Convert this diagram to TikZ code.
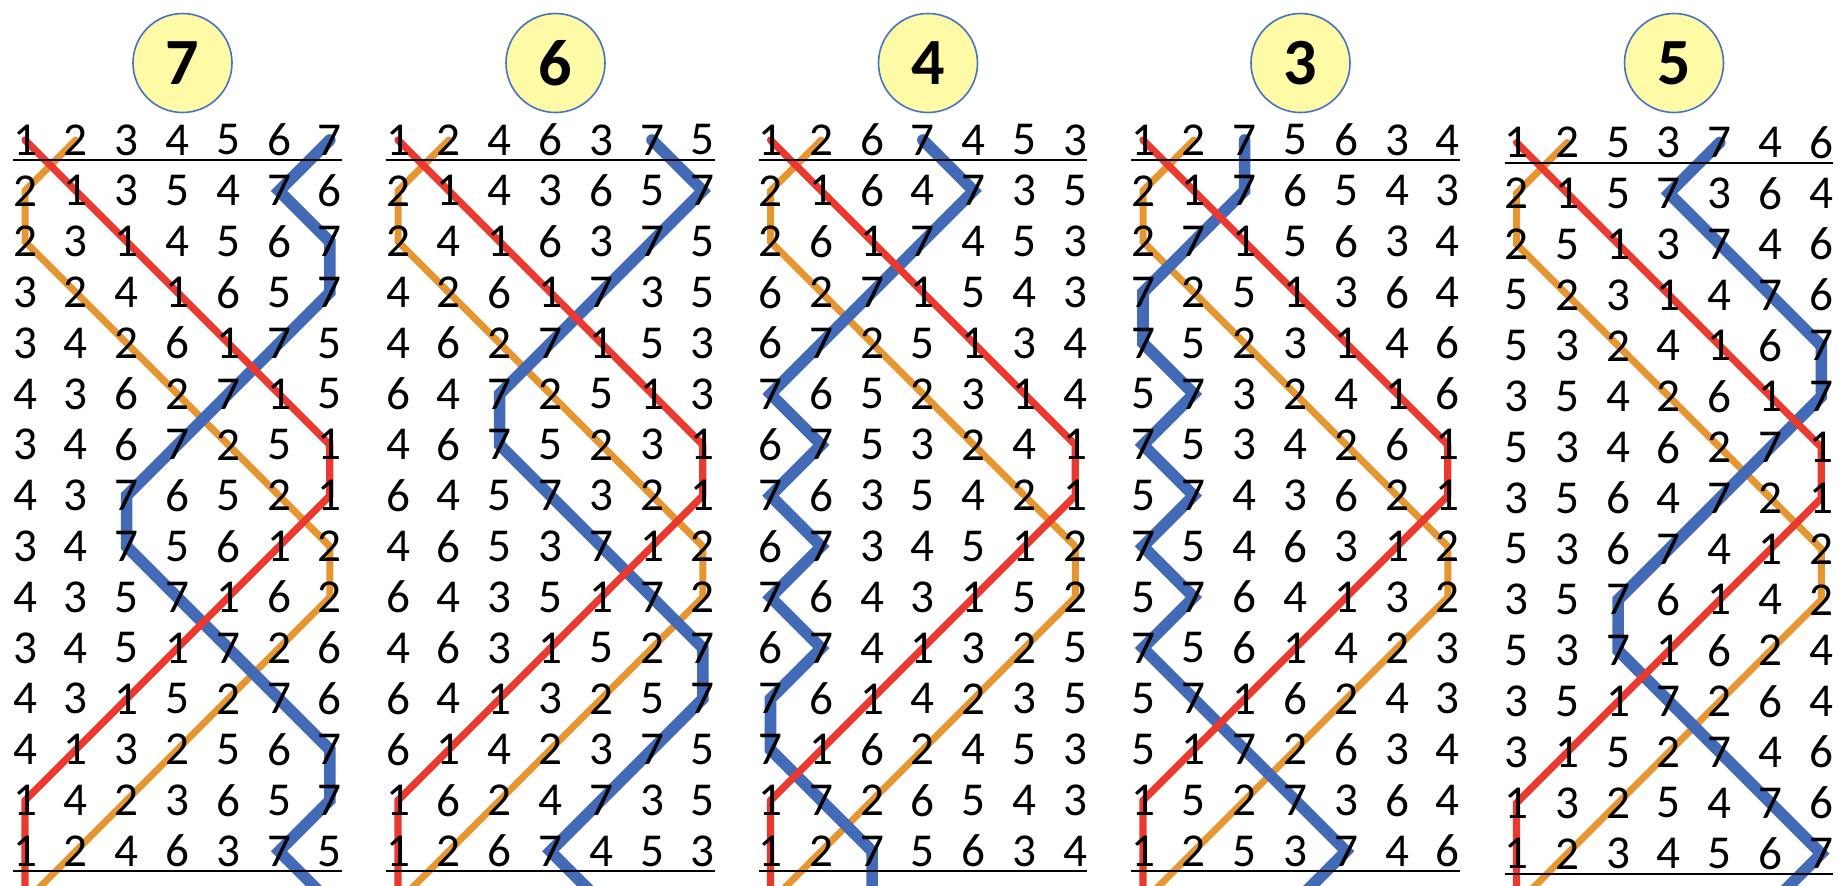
\documentclass[tikz,border=0pt]{standalone}
\usepackage{fontspec}
\setmainfont{Carlito}
\pgfdeclarelayer{background}
\pgfsetlayers{background,main}
\definecolor{bellred}{RGB}{234,58,47}
\definecolor{bellorange}{RGB}{229,150,48}
\definecolor{bellblue}{RGB}{66,106,182}
\definecolor{circfill}{RGB}{255,250,166}
\definecolor{circline}{RGB}{68,114,196}
\tikzset{
  digit/.style={inner sep=0pt, font=\fontsize{23.6}{28}\selectfont},
  titlecirc/.style={circle, draw=circline, line width=0.8pt, fill=circfill, minimum size=49.5pt, inner sep=0pt, font=\fontsize{33}{40}\selectfont\bfseries},
  rulebar/.style={draw=black, line width=1pt},
  redpath/.style={draw=bellred, line width=3.6pt, line cap=round},
  orangepath/.style={draw=bellorange, line width=3.5pt, line cap=round},
  bluepath/.style={draw=bellblue, line width=5.8pt, line cap=round},
}
% #1 index, #2 x of first column, #3 vertical shift, #4 rows, #5 title, #6 blue tail dx
\newcommand\drawpanel[6]{%
  \node[titlecirc] (t#1) at ({#2+157.5},63) {#5};
  \foreach \rowlist [count=\ri from 0] in {#4} {
    \foreach \bi [count=\ci from 0] in \rowlist {
      \node[digit] (p#1-\ri-\bi) at ({#2+50.8*\ci},{140+#3+50.8*\ri}) {\bi};
    }
  }
  \coordinate (ta#1) at ({#2-12},{160+#3});
  \coordinate (tb#1) at ({#2+6*50.8+12},{160+#3});
  \coordinate (ba#1) at ({#2-12},{871.2+#3});
  \coordinate (bb#1) at ({#2+6*50.8+12},{871.2+#3});
  \draw[rulebar] (ta#1) -- (tb#1);
  \draw[rulebar] (ba#1) -- (bb#1);
  \begin{pgfonlayer}{background}
  \begin{scope}
    \clip (0,0) rectangle (1838,885);
    \draw[orangepath] (p#1-0-2.center) \foreach \ri in {1,...,14}{ -- (p#1-\ri-2.center)} -- ++(-50.8,50.8);
    \draw[bluepath] (p#1-0-7.center) \foreach \ri in {1,...,14}{ -- (p#1-\ri-7.center)} -- ++({#6*50.8},50.8);
    \draw[redpath] (p#1-0-1.center) \foreach \ri in {1,...,14}{ -- (p#1-\ri-1.center)} -- ++(0,50.8);
  \end{scope}
  \end{pgfonlayer}
}
\begin{document}
\begin{tikzpicture}[x=0.5pt,y=-0.5pt]
\useasboundingbox (0,0) rectangle (1838,885);
\drawpanel{1}{25}{0}{{1,2,3,4,5,6,7},{2,1,3,5,4,7,6},{2,3,1,4,5,6,7},{3,2,4,1,6,5,7},{3,4,2,6,1,7,5},{4,3,6,2,7,1,5},{3,4,6,7,2,5,1},{4,3,7,6,5,2,1},{3,4,7,5,6,1,2},{4,3,5,7,1,6,2},{3,4,5,1,7,2,6},{4,3,1,5,2,7,6},{4,1,3,2,5,6,7},{1,4,2,3,6,5,7},{1,2,4,6,3,7,5}}{7}{1}
\drawpanel{2}{398}{0}{{1,2,4,6,3,7,5},{2,1,4,3,6,5,7},{2,4,1,6,3,7,5},{4,2,6,1,7,3,5},{4,6,2,7,1,5,3},{6,4,7,2,5,1,3},{4,6,7,5,2,3,1},{6,4,5,7,3,2,1},{4,6,5,3,7,1,2},{6,4,3,5,1,7,2},{4,6,3,1,5,2,7},{6,4,1,3,2,5,7},{6,1,4,2,3,7,5},{1,6,2,4,7,3,5},{1,2,6,7,4,5,3}}{6}{1}
\drawpanel{3}{770.5}{0}{{1,2,6,7,4,5,3},{2,1,6,4,7,3,5},{2,6,1,7,4,5,3},{6,2,7,1,5,4,3},{6,7,2,5,1,3,4},{7,6,5,2,3,1,4},{6,7,5,3,2,4,1},{7,6,3,5,4,2,1},{6,7,3,4,5,1,2},{7,6,4,3,1,5,2},{6,7,4,1,3,2,5},{7,6,1,4,2,3,5},{7,1,6,2,4,5,3},{1,7,2,6,5,4,3},{1,2,7,5,6,3,4}}{4}{0}
\drawpanel{4}{1143}{0}{{1,2,7,5,6,3,4},{2,1,7,6,5,4,3},{2,7,1,5,6,3,4},{7,2,5,1,3,6,4},{7,5,2,3,1,4,6},{5,7,3,2,4,1,6},{7,5,3,4,2,6,1},{5,7,4,3,6,2,1},{7,5,4,6,3,1,2},{5,7,6,4,1,3,2},{7,5,6,1,4,2,3},{5,7,1,6,2,4,3},{5,1,7,2,6,3,4},{1,5,2,7,3,6,4},{1,2,5,3,7,4,6}}{3}{-1}
\drawpanel{5}{1516.5}{2.5}{{1,2,5,3,7,4,6},{2,1,5,7,3,6,4},{2,5,1,3,7,4,6},{5,2,3,1,4,7,6},{5,3,2,4,1,6,7},{3,5,4,2,6,1,7},{5,3,4,6,2,7,1},{3,5,6,4,7,2,1},{5,3,6,7,4,1,2},{3,5,7,6,1,4,2},{5,3,7,1,6,2,4},{3,5,1,7,2,6,4},{3,1,5,2,7,4,6},{1,3,2,5,4,7,6},{1,2,3,4,5,6,7}}{5}{-1}
\end{tikzpicture}
\end{document}
